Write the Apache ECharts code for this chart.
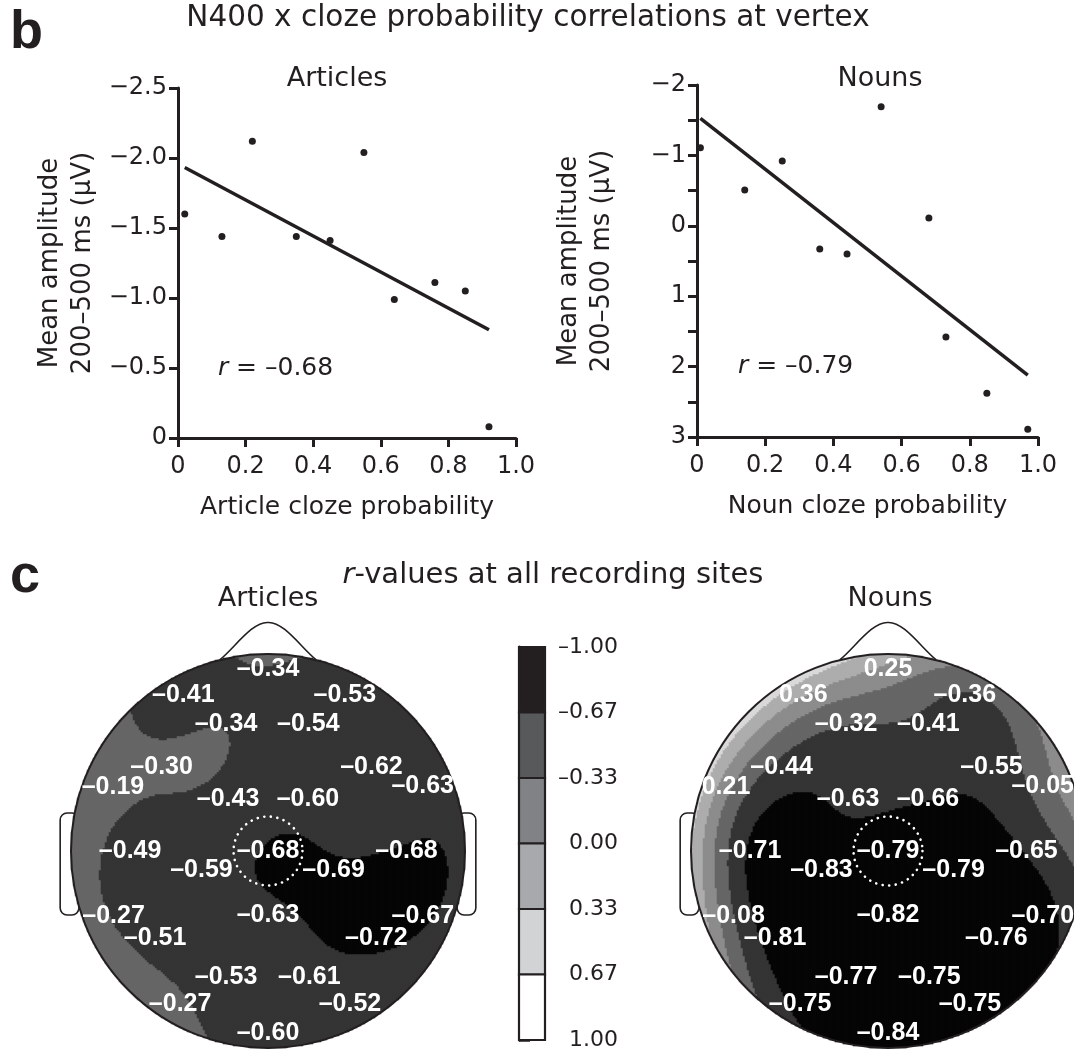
<!DOCTYPE html>
<html>
<head>
<meta charset="utf-8">
<title>N400 x cloze probability correlations</title>
<script src="https://cdn.jsdelivr.net/npm/echarts@6/dist/echarts.min.js"></script>
<style>
  html, body { margin: 0; padding: 0; background: #ffffff; }
  #chart { width: 1074px; height: 1051px; }
</style>
</head>
<body>
<div id="chart"></div>
<script>
// ---- Panel b: mean amplitude at the vertex (200–500 ms) per cloze bin ----
const articleCloze = [0.02, 0.13, 0.22, 0.35, 0.45, 0.55, 0.64, 0.76, 0.85, 0.92];
const articleAmp   = [-1.60, -1.44, -2.12, -1.44, -1.41, -2.04, -0.99, -1.11, -1.05, -0.08];
const nounCloze    = [0.01, 0.14, 0.25, 0.36, 0.44, 0.54, 0.68, 0.73, 0.85, 0.97];
const nounAmp      = [-1.11, -0.51, -0.92, 0.33, 0.40, -1.69, -0.11, 1.58, 2.38, 2.89];

// ---- Panel c: recording sites (unit head radius, +y towards the nose) ----
const siteX = [0, -0.43, 0.39, -0.213, 0.205, -0.54, 0.525, -0.839, 0.837, -0.203, 0.203,
               -0.70, 0, 0.703, -0.338, 0.333, -0.836, 0, 0.838, -0.573, 0.55,
               -0.213, 0.21, -0.446, 0.416, 0];
const siteY = [0.925, 0.79, 0.79, 0.645, 0.645, 0.426, 0.426, 0.325, 0.33, 0.264, 0.264,
               0, 0, 0, -0.096, -0.096, -0.333, -0.325, -0.329, -0.44, -0.44,
               -0.64, -0.64, -0.777, -0.777, -0.924];
// r-values (amplitude x cloze) at each site
const articleR = [-0.34, -0.41, -0.53, -0.34, -0.54, -0.30, -0.62, -0.19, -0.63, -0.43, -0.60,
                  -0.49, -0.68, -0.68, -0.59, -0.69, -0.27, -0.63, -0.67, -0.51, -0.72,
                  -0.53, -0.61, -0.27, -0.52, -0.60];
const nounR    = [0.25, 0.36, -0.36, -0.32, -0.41, -0.44, -0.55, 0.21, -0.05, -0.63, -0.66,
                  -0.71, -0.79, -0.65, -0.83, -0.79, -0.08, -0.82, -0.70, -0.81, -0.76,
                  -0.77, -0.75, -0.75, -0.75, -0.84];
const vertexSite = 12;

// ---- Axis ticks ----
const clozeTicks      = [0, 0.2, 0.4, 0.6, 0.8, 1.0];
const articleAmpTicks = [-2.5, -2.0, -1.5, -1.0, -0.5, 0];
const nounAmpTicks    = [-2, -1.5, -1, -0.5, 0, 0.5, 1, 1.5, 2, 2.5, 3];
const scaleTicks      = [-1, -2 / 3, -1 / 3, 0, 1 / 3, 2 / 3, 1];

// ---- Styling ----
const INK = '#231f20';
const SANS = "'DejaVu Sans', sans-serif";
const ARIAL = "'Liberation Sans', Arial, sans-serif";
const SITE_FONT = "bold 25px 'Liberation Sans', Arial, sans-serif";
const scaleShades = ['#231f20', '#58595b', '#808285', '#a7a9ac', '#d1d3d4', '#ffffff'];
const mapShades   = ['#060606', '#343434', '#666666', '#8c8c8c', '#adadad', '#d9d9d9'];
const HEAD_R = 197;          // head radius in px
const MAP_N = 197;           // interpolation cells across the head
const LEGENDRE_TERMS = 12;
const SPLINE_ORDER = 4;

const minus = s => String(s).replace('-', '\u2212');
const dash = s => String(s).replace('-', '\u2013');

// least-squares fit drawn across the observed cloze range
function fitLine(xs, ys) {
  const n = xs.length;
  const mx = xs.reduce((a, b) => a + b, 0) / n;
  const my = ys.reduce((a, b) => a + b, 0) / n;
  let sxy = 0, sxx = 0;
  for (let i = 0; i < n; i++) { sxy += (xs[i] - mx) * (ys[i] - my); sxx += (xs[i] - mx) ** 2; }
  const b = sxy / sxx, a = my - b * mx;
  const x0 = Math.min(...xs), x1 = Math.max(...xs);
  return [[x0, a + b * x0], [x1, a + b * x1]];
}

// Gauss-Jordan elimination with partial pivoting on an augmented matrix
function solve(M) {
  const n = M.length;
  for (let c = 0; c < n; c++) {
    let p = c;
    for (let r = c + 1; r < n; r++) if (Math.abs(M[r][c]) > Math.abs(M[p][c])) p = r;
    [M[c], M[p]] = [M[p], M[c]];
    for (let r = 0; r < n; r++) {
      if (r === c) continue;
      const f = M[r][c] / M[c][c];
      for (let k = c; k <= n; k++) M[r][k] -= f * M[c][k];
    }
  }
  return M.map((row, i) => row[n] / row[i]);
}

// spherical spline through the site r-values, sampled inside the head outline
function splineSurface(vals) {
  const n = siteX.length;
  const toSphere = (x, y) => {
    const th = Math.hypot(x, y) * Math.PI / 2, ph = Math.atan2(y, x);
    return [Math.sin(th) * Math.cos(ph), Math.sin(th) * Math.sin(ph), Math.cos(th)];
  };
  const coef = [];
  for (let k = 1; k <= LEGENDRE_TERMS; k++) coef.push((2 * k + 1) / Math.pow(k * (k + 1), SPLINE_ORDER));
  const green = c => {
    let p0 = 1, p1 = c, s = coef[0] * c;
    for (let k = 2; k <= LEGENDRE_TERMS; k++) {
      const p2 = ((2 * k - 1) * c * p1 - (k - 1) * p0) / k;
      s += coef[k - 1] * p2; p0 = p1; p1 = p2;
    }
    return s / (4 * Math.PI);
  };
  const dot = (a, b) => Math.max(-1, Math.min(1, a[0] * b[0] + a[1] * b[1] + a[2] * b[2]));
  const pts = siteX.map((x, i) => toSphere(x, siteY[i]));
  const M = [];
  for (let i = 0; i < n; i++) {
    const row = pts.map(q => green(dot(pts[i], q)));
    row.push(1, vals[i]);
    M.push(row);
  }
  M.push(Array(n).fill(1).concat([0, 0]));
  const w = solve(M);
  const c0 = w[n];
  const cells = [];
  for (let i = 0; i < MAP_N; i++) {
    const x = -1 + (i + 0.5) * 2 / MAP_N;
    for (let j = 0; j < MAP_N; j++) {
      const y = -1 + (j + 0.5) * 2 / MAP_N;
      if (x * x + y * y > 1) continue;
      const q = toSphere(x, y);
      let s = c0;
      for (let k = 0; k < n; k++) s += w[k] * green(dot(q, pts[k]));
      cells.push([i, j, Math.max(-1, Math.min(1, s))]);
    }
  }
  return cells;
}

const bins = Array.from({ length: MAP_N }, (_, i) => String(i));
const rText = v => (v < 0 ? '\u2013' : '') + Math.abs(v).toFixed(2);

// site labels sit on their electrode, nudged sideways to stay inside the head outline
const measureCtx = document.createElement('canvas').getContext('2d');
function sitePoints(vals) {
  measureCtx.font = SITE_FONT;
  return vals.map((v, i) => {
    const x = siteX[i], y = siteY[i];
    const half = measureCtx.measureText(rText(v)).width / 2 / HEAD_R;
    const room = Math.sqrt(Math.max(0, 1 - y * y)) - half;
    const ax = Math.max(-room, Math.min(room, x));
    return { value: [x, y, v], label: { offset: [(ax - x) * HEAD_R, 0] } };
  });
}

// head drawing: outline, nose, vertex marker
function headShape(params, api) {
  const P = (x, y) => api.coord([x, y]);
  const c = P(0, 0);
  const R = P(1, 0)[0] - c[0];
  const line = { stroke: INK, lineWidth: 2, fill: null };
  const bez = (a, c1, c2, b) => ({
    type: 'bezierCurve',
    shape: { x1: a[0], y1: a[1], cpx1: c1[0], cpy1: c1[1], cpx2: c2[0], cpy2: c2[1], x2: b[0], y2: b[1] },
    style: Object.assign({}, line, { lineWidth: 1.6 })
  });
  return {
    type: 'group',
    children: [
      { type: 'circle', shape: { cx: c[0], cy: c[1], r: R }, style: line },
      bez(P(-0.245, 0.97), P(-0.17, 1.03), P(-0.08, 1.165), P(0, 1.16)),
      bez(P(0, 1.16), P(0.08, 1.165), P(0.17, 1.03), P(0.245, 0.97)),
      { type: 'circle', shape: { cx: c[0], cy: c[1], r: 0.175 * R },
        style: { stroke: '#ffffff', lineWidth: 2.6, fill: null, lineDash: [0.1, 6.5], lineCap: 'round' } }
    ]
  };
}
function earShape(params, api) {
  const P = (x, y) => api.coord([x, y]);
  const ear = (x0, x1) => {
    const a = P(x0, 0.193), b = P(x1, -0.325);
    return { type: 'rect',
      shape: { x: Math.min(a[0], b[0]), y: a[1], width: Math.abs(b[0] - a[0]), height: b[1] - a[1], r: 7 },
      style: { fill: '#ffffff', stroke: INK, lineWidth: 1.6 } };
  };
  return { type: 'group', children: [ear(-1.055, -0.96), ear(0.96, 1.055)] };
}

function colorScale(params, api) {
  const i = api.value(0);
  const a = api.coord([0, scaleTicks[i]]);
  const b = api.coord([1, scaleTicks[i + 1]]);
  return { type: 'rect',
    shape: { x: a[0], y: a[1], width: b[0] - a[0], height: b[1] - a[1] },
    style: { fill: scaleShades[i], stroke: INK, lineWidth: 2.2 } };
}

const tickFont = { fontFamily: SANS, fontSize: 24, color: INK };
const axisBase = {
  axisLine: { show: true, onZero: false, lineStyle: { color: INK, width: 3 } },
  axisTick: { show: true, length: 9, lineStyle: { color: INK, width: 3 } },
  splitLine: { show: false }
};
const hidden = { show: false };

function clozeAxis(grid, name) {
  return Object.assign({}, axisBase, {
    type: 'value', gridIndex: grid, min: 0, max: 1, interval: 0.2,
    name: name, nameLocation: 'middle', nameGap: 57,
    nameTextStyle: { fontFamily: SANS, fontSize: 25, color: INK },
    axisLabel: Object.assign({}, tickFont, { margin: 17, formatter: v => (v === 0 ? '0' : v.toFixed(1)) })
  });
}
function ampAxis(grid, min, max, fmt) {
  return Object.assign({}, axisBase, {
    type: 'value', gridIndex: grid, min: min, max: max, interval: 0.5, inverse: true,
    name: 'Mean amplitude\n200\u2013500 ms (\u00b5V)', nameLocation: 'middle', nameRotate: 90, nameGap: 78,
    nameTextStyle: { fontFamily: SANS, fontSize: 26, lineHeight: 33, color: INK },
    axisLabel: Object.assign({}, tickFont, { margin: 11, formatter: fmt })
  });
}

const rLabel = (grid, at, value) => ({
  type: 'scatter', xAxisIndex: grid, yAxisIndex: grid, data: [at], symbolSize: 0, silent: true,
  itemStyle: { opacity: 1 },
  label: {
    show: true, position: 'right', distance: 0,
    formatter: () => '{i|r} = ' + dash(value.toFixed(2)),
    fontFamily: SANS, fontSize: 25, color: INK,
    rich: { i: { fontStyle: 'italic', fontFamily: SANS, fontSize: 25, color: INK } }
  }
});

const siteLabels = (grid, vals) => ({
  type: 'scatter', xAxisIndex: grid, yAxisIndex: grid, data: sitePoints(vals), symbolSize: 0, z: 4, silent: true,
  itemStyle: { opacity: 1 },
  label: { show: true, position: 'inside', formatter: p => rText(p.value[2]),
    fontFamily: ARIAL, fontWeight: 'bold', fontSize: 25, color: '#ffffff', opacity: 1, textBorderWidth: 0 }
});

const box = (left, top, width, height) => ({ left, top, width, height, containLabel: false, outerBoundsMode: 'none' });
const headBox = (cx, cy) => box(cx - HEAD_R, cy - HEAD_R, 2 * HEAD_R, 2 * HEAD_R);

const chart = echarts.init(document.getElementById('chart'), null, { renderer: 'canvas' });

const option = {
  animation: false,
  backgroundColor: '#ffffff',
  grid: [
    box(178, 88, 338, 350),
    box(697, 85, 341, 352),
    headBox(268, 851),
    headBox(268, 851),
    headBox(888, 851),
    headBox(888, 851),
    box(519, 647, 26, 393)
  ],
  xAxis: [
    clozeAxis(0, 'Article cloze probability'),
    clozeAxis(1, 'Noun cloze probability'),
    { type: 'category', gridIndex: 2, data: bins, show: false },
    { type: 'value', gridIndex: 3, min: -1, max: 1, show: false },
    { type: 'category', gridIndex: 4, data: bins, show: false },
    { type: 'value', gridIndex: 5, min: -1, max: 1, show: false },
    { type: 'value', gridIndex: 6, min: 0, max: 1, show: false }
  ],
  yAxis: [
    ampAxis(0, articleAmpTicks[0], articleAmpTicks[articleAmpTicks.length - 1],
      v => (v === 0 ? '0' : minus(v.toFixed(1)))),
    ampAxis(1, nounAmpTicks[0], nounAmpTicks[nounAmpTicks.length - 1],
      v => (Number.isInteger(v) ? minus(v) : '')),
    { type: 'category', gridIndex: 2, data: bins, show: false },
    { type: 'value', gridIndex: 3, min: -1, max: 1, show: false },
    { type: 'category', gridIndex: 4, data: bins, show: false },
    { type: 'value', gridIndex: 5, min: -1, max: 1, show: false },
    {
      type: 'value', gridIndex: 6, min: -1, max: 1, inverse: true, position: 'right',
      axisLine: { show: true, lineStyle: { color: INK, width: 3 } },
      axisTick: { show: true, length: 11, customValues: scaleTicks, lineStyle: { color: INK, width: 2.5 } },
      axisLabel: { show: true, customValues: scaleTicks, align: 'right', margin: 73,
        fontFamily: SANS, fontSize: 22, color: INK,
        formatter: v => dash((Math.abs(v) < 1e-9 ? 0 : v).toFixed(2)) },
      splitLine: hidden
    }
  ],
  visualMap: {
    type: 'piecewise', show: false, dimension: 2, seriesIndex: [6, 10],
    pieces: [
      { gte: -1.01, lt: -2 / 3, color: mapShades[0] },
      { gte: -2 / 3, lt: -1 / 3, color: mapShades[1] },
      { gte: -1 / 3, lt: 0, color: mapShades[2] },
      { gte: 0, lt: 1 / 3, color: mapShades[3] },
      { gte: 1 / 3, lt: 2 / 3, color: mapShades[4] },
      { gte: 2 / 3, lte: 1.01, color: mapShades[5] }
    ]
  },
  series: [
    // 0-5: scatter plots with fitted lines and r labels
    { type: 'scatter', xAxisIndex: 0, yAxisIndex: 0, symbolSize: 7, itemStyle: { color: INK, opacity: 1 },
      data: articleCloze.map((x, i) => [x, articleAmp[i]]), silent: true },
    { type: 'line', xAxisIndex: 0, yAxisIndex: 0, showSymbol: false, silent: true,
      lineStyle: { color: INK, width: 3.5 }, data: fitLine(articleCloze, articleAmp) },
    rLabel(0, [0.118, -0.5], articleR[vertexSite]),
    { type: 'scatter', xAxisIndex: 1, yAxisIndex: 1, symbolSize: 7, itemStyle: { color: INK, opacity: 1 },
      data: nounCloze.map((x, i) => [x, nounAmp[i]]), silent: true },
    { type: 'line', xAxisIndex: 1, yAxisIndex: 1, showSymbol: false, silent: true,
      lineStyle: { color: INK, width: 3.5 }, data: fitLine(nounCloze, nounAmp) },
    rLabel(1, [0.12, 2.0], nounR[vertexSite]),
    // 6-9: articles scalp map
    { type: 'heatmap', xAxisIndex: 2, yAxisIndex: 2, data: splineSurface(articleR),
      progressive: 0, silent: true, z: 2, itemStyle: { borderWidth: 0 } },
    { type: 'custom', xAxisIndex: 3, yAxisIndex: 3, data: [[0, 0]], renderItem: earShape, z: 1, silent: true },
    { type: 'custom', xAxisIndex: 3, yAxisIndex: 3, data: [[0, 0]], renderItem: headShape, z: 3, silent: true },
    siteLabels(3, articleR),
    // 10-13: nouns scalp map
    { type: 'heatmap', xAxisIndex: 4, yAxisIndex: 4, data: splineSurface(nounR),
      progressive: 0, silent: true, z: 2, itemStyle: { borderWidth: 0 } },
    { type: 'custom', xAxisIndex: 5, yAxisIndex: 5, data: [[0, 0]], renderItem: earShape, z: 1, silent: true },
    { type: 'custom', xAxisIndex: 5, yAxisIndex: 5, data: [[0, 0]], renderItem: headShape, z: 3, silent: true },
    siteLabels(5, nounR),
    // 14: colour scale
    { type: 'custom', xAxisIndex: 6, yAxisIndex: 6, data: scaleShades.map((_, i) => [i]),
      renderItem: colorScale, z: 2, silent: true }
  ],
  graphic: [
    { type: 'text', left: 10, top: 6, style: { text: 'b', font: "bold 54px 'Liberation Sans', Arial, sans-serif", fill: INK } },
    { type: 'text', x: 528, y: 18, style: { text: 'N400 x cloze probability correlations at vertex',
        fontFamily: SANS, fontSize: 29.5, fill: INK, align: 'center', verticalAlign: 'middle' } },
    { type: 'text', x: 337, y: 79, style: { text: 'Articles', fontFamily: SANS, fontSize: 27, fill: INK, align: 'center', verticalAlign: 'middle' } },
    { type: 'text', x: 880, y: 79, style: { text: 'Nouns', fontFamily: SANS, fontSize: 27, fill: INK, align: 'center', verticalAlign: 'middle' } },
    { type: 'text', left: 10, top: 550, style: { text: 'c', font: "bold 54px 'Liberation Sans', Arial, sans-serif", fill: INK } },
    { type: 'text', x: 553, y: 575, style: { text: '{i|r}-values at all recording sites',
        fontFamily: SANS, fontSize: 29, fill: INK, align: 'center', verticalAlign: 'middle',
        rich: { i: { fontStyle: 'italic', fontFamily: SANS, fontSize: 29, fill: INK } } } },
    { type: 'text', x: 268, y: 599, style: { text: 'Articles', fontFamily: SANS, fontSize: 27, fill: INK, align: 'center', verticalAlign: 'middle' } },
    { type: 'text', x: 890, y: 599, style: { text: 'Nouns', fontFamily: SANS, fontSize: 27, fill: INK, align: 'center', verticalAlign: 'middle' } }
  ]
};

chart.setOption(option);
</script>
</body>
</html>
